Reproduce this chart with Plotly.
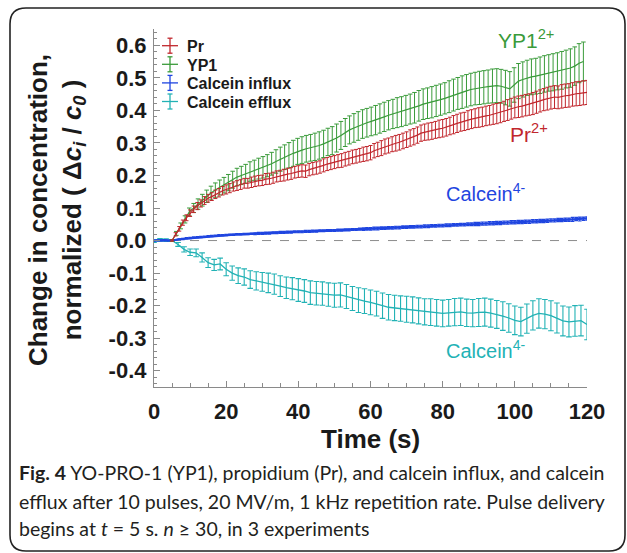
import plotly.graph_objects as go

# ---------------- data ----------------
pr_t = [5, 6, 7, 8, 9, 10, 11, 12, 13, 14, 15, 16, 17, 18, 19, 20, 21, 22, 23, 24,
        25, 26, 27, 28, 29, 30, 31, 32, 33, 34, 35, 36, 37, 38, 39, 40, 41, 42, 43, 44,
        45, 46, 47, 48, 49, 50, 51, 52, 53, 54, 55, 56, 57, 58, 59, 60, 61, 62, 63, 64,
        65, 66, 67, 68, 69, 70, 71, 72, 73, 74, 75, 76, 77, 78, 79, 80, 81, 82, 83, 84,
        85, 86, 87, 88, 89, 90, 91, 92, 93, 94, 95, 96, 97, 98, 99, 100, 101, 102, 103, 104,
        105, 106, 107, 108, 109, 110, 111, 112, 113, 114, 115, 116, 117, 118, 119, 120]
pr_y = [0.000, 0.019, 0.036, 0.055, 0.070, 0.084, 0.096, 0.106, 0.114, 0.123,
        0.130, 0.135, 0.142, 0.147, 0.153, 0.157, 0.161, 0.166, 0.169, 0.172,
        0.176, 0.176, 0.179, 0.182, 0.184, 0.185, 0.189, 0.190, 0.193, 0.197,
        0.199, 0.201, 0.204, 0.206, 0.210, 0.212, 0.214, 0.213, 0.218, 0.221,
        0.223, 0.226, 0.231, 0.235, 0.238, 0.241, 0.244, 0.246, 0.250, 0.253,
        0.257, 0.259, 0.262, 0.265, 0.267, 0.270, 0.276, 0.280, 0.284, 0.289,
        0.292, 0.296, 0.299, 0.302, 0.306, 0.310, 0.315, 0.319, 0.324, 0.330,
        0.333, 0.335, 0.337, 0.340, 0.343, 0.345, 0.348, 0.352, 0.356, 0.360,
        0.364, 0.366, 0.370, 0.373, 0.376, 0.378, 0.380, 0.383, 0.385, 0.388,
        0.390, 0.393, 0.397, 0.401, 0.405, 0.409, 0.411, 0.413, 0.416, 0.418,
        0.421, 0.425, 0.429, 0.433, 0.436, 0.439, 0.441, 0.440, 0.443, 0.445,
        0.446, 0.449, 0.451, 0.452, 0.454, 0.455]
pr_err = [0.002, 0.005, 0.007, 0.008, 0.009, 0.010, 0.010, 0.011, 0.011, 0.012,
          0.012, 0.012, 0.013, 0.013, 0.013, 0.014, 0.014, 0.014, 0.015, 0.015,
          0.015, 0.015, 0.016, 0.016, 0.016, 0.016, 0.017, 0.017, 0.017, 0.017,
          0.017, 0.018, 0.018, 0.018, 0.018, 0.018, 0.019, 0.019, 0.019, 0.019,
          0.019, 0.019, 0.020, 0.020, 0.020, 0.020, 0.020, 0.021, 0.021, 0.021,
          0.021, 0.021, 0.021, 0.022, 0.022, 0.022, 0.022, 0.022, 0.023, 0.023,
          0.023, 0.023, 0.024, 0.024, 0.024, 0.024, 0.025, 0.025, 0.025, 0.025,
          0.025, 0.026, 0.026, 0.026, 0.027, 0.027, 0.027, 0.027, 0.028, 0.028,
          0.028, 0.028, 0.029, 0.029, 0.029, 0.030, 0.030, 0.030, 0.030, 0.031,
          0.031, 0.031, 0.031, 0.032, 0.032, 0.032, 0.033, 0.033, 0.033, 0.033,
          0.034, 0.034, 0.034, 0.034, 0.035, 0.035, 0.035, 0.035, 0.036, 0.036,
          0.036, 0.036, 0.037, 0.037, 0.037, 0.037]

yp1_t = [5.0, 6.2, 7.4, 8.6, 9.8, 11.0, 12.2, 13.4, 14.6, 15.8,
         17.0, 18.2, 19.4, 20.6, 21.8, 23.0, 24.2, 25.4, 26.6, 27.8,
         29.0, 30.2, 31.4, 32.6, 33.8, 35.0, 36.2, 37.4, 38.6, 39.8,
         41.0, 42.2, 43.4, 44.6, 45.8, 47.0, 48.2, 49.4, 50.6, 51.8,
         53.0, 54.2, 55.4, 56.6, 57.8, 59.0, 60.2, 61.4, 62.6, 63.8,
         65.0, 66.2, 67.4, 68.6, 69.8, 71.0, 72.2, 73.4, 74.6, 75.8,
         77.0, 78.2, 79.4, 80.6, 81.8, 83.0, 84.2, 85.4, 86.6, 87.8,
         89.0, 90.2, 91.4, 92.6, 93.8, 95.0, 96.2, 97.4, 98.6, 99.8,
         101.0, 102.2, 103.4, 104.6, 105.8, 107.0, 108.2, 109.4, 110.6, 111.8,
         113.0, 114.2, 115.4, 116.6, 117.8, 119.0]
yp1_y = [0.000, 0.022, 0.045, 0.065, 0.088, 0.100, 0.112, 0.124, 0.136, 0.146,
         0.155, 0.163, 0.170, 0.178, 0.187, 0.195, 0.200, 0.205, 0.212, 0.216,
         0.221, 0.225, 0.230, 0.236, 0.243, 0.250, 0.256, 0.262, 0.268, 0.274,
         0.278, 0.282, 0.285, 0.288, 0.292, 0.297, 0.303, 0.307, 0.315, 0.323,
         0.332, 0.340, 0.346, 0.352, 0.358, 0.362, 0.366, 0.370, 0.375, 0.380,
         0.385, 0.389, 0.393, 0.396, 0.400, 0.404, 0.408, 0.414, 0.419, 0.422,
         0.425, 0.429, 0.433, 0.437, 0.442, 0.447, 0.452, 0.456, 0.460, 0.464,
         0.467, 0.469, 0.471, 0.473, 0.475, 0.476, 0.474, 0.470, 0.466, 0.478,
         0.490, 0.495, 0.500, 0.503, 0.505, 0.508, 0.512, 0.515, 0.517, 0.520,
         0.523, 0.527, 0.530, 0.536, 0.545, 0.550]
yp1_err = [0.003, 0.006, 0.009, 0.011, 0.012, 0.014, 0.016, 0.018, 0.019, 0.021,
           0.022, 0.023, 0.024, 0.025, 0.026, 0.027, 0.028, 0.029, 0.030, 0.031,
           0.032, 0.033, 0.034, 0.035, 0.036, 0.037, 0.038, 0.039, 0.040, 0.040,
           0.041, 0.041, 0.041, 0.042, 0.042, 0.042, 0.042, 0.043, 0.043, 0.043,
           0.043, 0.043, 0.044, 0.044, 0.044, 0.044, 0.044, 0.045, 0.045, 0.045,
           0.045, 0.045, 0.046, 0.046, 0.046, 0.046, 0.047, 0.047, 0.047, 0.047,
           0.048, 0.048, 0.048, 0.048, 0.049, 0.049, 0.049, 0.050, 0.050, 0.050,
           0.050, 0.051, 0.051, 0.051, 0.052, 0.052, 0.052, 0.053, 0.053, 0.053,
           0.054, 0.054, 0.054, 0.055, 0.055, 0.056, 0.056, 0.056, 0.057, 0.057,
           0.058, 0.058, 0.059, 0.059, 0.060, 0.060]

cin_t = [0, 1, 2, 3, 4, 5, 6, 7, 8, 9, 10, 11, 12, 13, 14, 15, 16, 17, 18, 19, 20,
         21, 22, 23, 24, 25, 26, 27, 28, 29, 30, 31, 32, 33, 34, 35, 36, 37, 38, 39, 40,
         41, 42, 43, 44, 45, 46, 47, 48, 49, 50, 51, 52, 53, 54, 55, 56, 57, 58, 59, 60,
         61, 62, 63, 64, 65, 66, 67, 68, 69, 70, 71, 72, 73, 74, 75, 76, 77, 78, 79, 80,
         81, 82, 83, 84, 85, 86, 87, 88, 89, 90, 91, 92, 93, 94, 95, 96, 97, 98, 99, 100,
         101, 102, 103, 104, 105, 106, 107, 108, 109, 110, 111, 112, 113, 114, 115, 116,
         117, 118, 119, 120]
cin_y = [0.000, 0.001, 0.000, 0.001, 0.000,
         0.000, 0.002, 0.004, 0.005, 0.007, 0.008, 0.009, 0.010, 0.011, 0.012,
         0.013, 0.014, 0.015, 0.016, 0.016, 0.017, 0.018, 0.018, 0.019, 0.019,
         0.020, 0.020, 0.021, 0.021, 0.022, 0.022, 0.023, 0.023, 0.024, 0.024,
         0.025, 0.025, 0.026, 0.026, 0.027, 0.027, 0.027, 0.028, 0.028, 0.029,
         0.029, 0.030, 0.030, 0.031, 0.031, 0.031, 0.032, 0.032, 0.033, 0.033,
         0.034, 0.034, 0.035, 0.035, 0.036, 0.036, 0.037, 0.037, 0.038, 0.038,
         0.039, 0.039, 0.040, 0.040, 0.041, 0.041, 0.042, 0.042, 0.043, 0.043,
         0.044, 0.044, 0.045, 0.045, 0.046, 0.046, 0.047, 0.047, 0.048, 0.048,
         0.049, 0.049, 0.050, 0.050, 0.051, 0.051, 0.052, 0.052, 0.053, 0.053,
         0.054, 0.054, 0.055, 0.055, 0.056, 0.056, 0.057, 0.057, 0.058, 0.058,
         0.059, 0.059, 0.060, 0.060, 0.061, 0.062, 0.062, 0.063, 0.063, 0.064,
         0.064, 0.065, 0.066, 0.066, 0.067, 0.068]
cin_err = [0.001, 0.001, 0.001, 0.001, 0.001,
           0.001, 0.001, 0.001, 0.002, 0.002, 0.002, 0.002, 0.002, 0.002, 0.002,
           0.002, 0.002, 0.002, 0.002, 0.002, 0.002, 0.002, 0.002, 0.002, 0.002,
           0.002, 0.002, 0.002, 0.003, 0.003, 0.003, 0.003, 0.003, 0.003, 0.003,
           0.003, 0.003, 0.003, 0.003, 0.003, 0.003, 0.003, 0.003, 0.003, 0.003,
           0.003, 0.003, 0.003, 0.003, 0.003, 0.003, 0.003, 0.003, 0.003, 0.003,
           0.003, 0.003, 0.003, 0.004, 0.004, 0.004, 0.004, 0.004, 0.004, 0.004,
           0.004, 0.004, 0.004, 0.004, 0.004, 0.004, 0.004, 0.004, 0.004, 0.004,
           0.004, 0.004, 0.004, 0.004, 0.004, 0.004, 0.004, 0.004, 0.004, 0.004,
           0.004, 0.004, 0.004, 0.004, 0.005, 0.005, 0.005, 0.005, 0.005, 0.005,
           0.005, 0.005, 0.005, 0.005, 0.005, 0.005, 0.005, 0.005, 0.005, 0.005,
           0.005, 0.005, 0.005, 0.005, 0.005, 0.005, 0.005, 0.005, 0.005, 0.005,
           0.005, 0.006, 0.005, 0.006, 0.005, 0.005]

cef_t = [0, 1.67, 3.33, 5, 6.67, 8.33, 10, 11.67, 13.33, 15, 16.67, 18.33, 20,
         21.67, 23.33, 25, 26.67, 28.33, 30, 31.67, 33.33, 35, 36.67, 38.33, 40,
         41.67, 43.33, 45, 46.67, 48.33, 50, 51.67, 53.33, 55, 56.67, 58.33, 60,
         61.67, 63.33, 65, 66.67, 68.33, 70, 71.67, 73.33, 75, 76.67, 78.33, 80,
         81.67, 83.33, 85, 86.67, 88.33, 90, 91.67, 93.33, 95, 96.67, 98.33, 100,
         101.67, 103.33, 105, 106.67, 108.33, 110, 111.67, 113.33, 115, 116.67, 118.33, 120]
cef_y = [-0.002, 0.002, 0.001, 0.000,
         -0.012, -0.027, -0.036, -0.038, -0.052, -0.068, -0.075, -0.072, -0.088,
         -0.100, -0.108, -0.112, -0.120, -0.124, -0.127, -0.130, -0.134, -0.140, -0.145, -0.148, -0.152,
         -0.155, -0.160, -0.162, -0.163, -0.166, -0.168, -0.167, -0.172, -0.178, -0.183, -0.186, -0.190,
         -0.194, -0.200, -0.205, -0.207, -0.209, -0.211, -0.213, -0.216, -0.219, -0.220, -0.222, -0.224,
         -0.222, -0.220, -0.219, -0.222, -0.223, -0.221, -0.220, -0.223, -0.227, -0.232, -0.238, -0.245,
         -0.249, -0.240, -0.230, -0.224, -0.226, -0.231, -0.238, -0.247, -0.250, -0.247, -0.246, -0.258]
cef_err = [0.004, 0.004, 0.004, 0.003,
           0.006, 0.008, 0.010, 0.012, 0.014, 0.015, 0.017, 0.018, 0.020,
           0.022, 0.024, 0.025, 0.027, 0.028, 0.029, 0.030, 0.031, 0.032, 0.033, 0.034, 0.035,
           0.035, 0.036, 0.036, 0.036, 0.036, 0.037, 0.037, 0.037, 0.037, 0.038, 0.038, 0.038,
           0.038, 0.039, 0.039, 0.039, 0.039, 0.040, 0.040, 0.040, 0.040, 0.041, 0.041, 0.041,
           0.041, 0.042, 0.042, 0.042, 0.042, 0.043, 0.043, 0.043, 0.043, 0.044, 0.044, 0.044,
           0.044, 0.045, 0.045, 0.045, 0.045, 0.046, 0.046, 0.046, 0.046, 0.047, 0.047, 0.047]

legend_names = ["Pr", "YP1", "Calcein influx", "Calcein efflux"]
x_ticks = [0, 20, 40, 60, 80, 100, 120]
y_ticks = [-0.4, -0.3, -0.2, -0.1, 0.0, 0.1, 0.2, 0.3, 0.4, 0.5, 0.6]

# ---------------- styling ----------------
RED = "#c1272d"
GREEN = "#3a9b3a"
BLUE = "#1f45e0"
TEAL = "#22b2b5"
AX = "#8a8a8a"
FONT = "Liberation Sans, Arial, sans-serif"

W, H = 627, 553
ML, MR, MT, MB = 154, 40, 29, 166
PW, PH = W - ML - MR, H - MT - MB


def xp(px):
    return (px - ML) / PW


def yp(py):
    return (H - MB - py) / PH


fig = go.Figure()


def add_series(t, y, e, color, lw=1.2, ew=1.0, cap=2.2):
    fig.add_trace(go.Scatter(
        x=t, y=y, mode="lines", showlegend=False,
        line=dict(color=color, width=lw),
        error_y=dict(type="data", array=e, visible=True, color=color,
                     thickness=ew, width=cap),
    ))


add_series(cef_t, cef_y, cef_err, TEAL, lw=1.3, ew=1.1, cap=2.8)
add_series(cin_t, cin_y, cin_err, BLUE, lw=2.2, ew=1.2, cap=1.8)
add_series(yp1_t, yp1_y, yp1_err, GREEN, lw=1.2, ew=1.0, cap=2.3)
add_series(pr_t, pr_y, pr_err, RED, lw=1.2, ew=1.0, cap=2.0)

shapes = []
annotations = []

# dashed zero reference line
shapes.append(dict(type="line", xref="x", yref="y", x0=0, x1=120, y0=0, y1=0,
                   line=dict(color="#8c8c8c", width=1, dash="dash"), layer="below"))

# outer rounded frame
x0, x1, y0, y1, r = 10, 625, 8, 551, 16
path = (f"M {xp(x0 + r)},{yp(y0)} L {xp(x1 - r)},{yp(y0)} "
        f"Q {xp(x1)},{yp(y0)} {xp(x1)},{yp(y0 + r)} "
        f"L {xp(x1)},{yp(y1 - r)} Q {xp(x1)},{yp(y1)} {xp(x1 - r)},{yp(y1)} "
        f"L {xp(x0 + r)},{yp(y1)} Q {xp(x0)},{yp(y1)} {xp(x0)},{yp(y1 - r)} "
        f"L {xp(x0)},{yp(y0 + r)} Q {xp(x0)},{yp(y0)} {xp(x0 + r)},{yp(y0)} Z")
shapes.append(dict(type="path", xref="paper", yref="paper", path=path,
                   line=dict(color="#222222", width=1.6)))

# manual legend (error-bar icons + bold labels)
leg_colors = [RED, GREEN, BLUE, TEAL]
leg_rows = [45.7, 64.3, 82.9, 101.5]
for name, col, yc in zip(legend_names, leg_colors, leg_rows):
    shapes.append(dict(type="line", xref="paper", yref="paper",
                       x0=xp(162), x1=xp(178), y0=yp(yc), y1=yp(yc),
                       line=dict(color=col, width=1.3)))
    shapes.append(dict(type="line", xref="paper", yref="paper",
                       x0=xp(170), x1=xp(170), y0=yp(yc - 7.5), y1=yp(yc + 7.5),
                       line=dict(color=col, width=1.3)))
    for dy in (-7.5, 7.5):
        shapes.append(dict(type="line", xref="paper", yref="paper",
                           x0=xp(167.5), x1=xp(172.5), y0=yp(yc + dy), y1=yp(yc + dy),
                           line=dict(color=col, width=1.3)))
    annotations.append(dict(xref="paper", yref="paper", x=xp(185), y=yp(yc + 1),
                            xanchor="left", yanchor="middle", showarrow=False,
                            text=f"<b>{name}</b>",
                            font=dict(family=FONT, size=16, color="#1a1a1a")))

# series labels
lab_font = 20
annotations += [
    dict(xref="x", yref="y", x=103, y=0.62, text="YP1<sup>2+</sup>", showarrow=False,
         font=dict(family=FONT, size=21, color=GREEN)),
    dict(xref="x", yref="y", x=104, y=0.33, text="Pr<sup>2+</sup>", showarrow=False,
         font=dict(family=FONT, size=21, color=RED)),
    dict(xref="x", yref="y", x=92, y=0.148, text="Calcein<sup>4-</sup>", showarrow=False,
         font=dict(family=FONT, size=lab_font, color=BLUE)),
    dict(xref="x", yref="y", x=92, y=-0.335, text="Calcein<sup>4-</sup>", showarrow=False,
         font=dict(family=FONT, size=lab_font, color=TEAL)),
]

# axis titles
annotations.append(dict(xref="paper", yref="paper", x=xp(370), y=yp(439),
                        xanchor="center", yanchor="middle", showarrow=False,
                        text="<b>Time (s)</b>",
                        font=dict(family=FONT, size=26, color="#1a1a1a")))
annotations.append(dict(xref="paper", yref="paper", x=xp(56), y=yp(210),
                        xanchor="center", yanchor="middle", showarrow=False,
                        textangle=-90,
                        text=("<b>Change in concentration,<br>normalized "
                              "( Δ<i>c<sub>i</sub></i> / <i>c<sub>0</sub></i> )</b>"),
                        font=dict(family=FONT, size=26, color="#1a1a1a")))

# caption
CAP = "Lato, Noto Sans, sans-serif"
cap_lines = [
    "<b>Fig. 4</b> YO-PRO-1 (YP1), propidium (Pr), and calcein influx, and calcein",
    "efflux after 10 pulses, 20 MV/m, 1 kHz repetition rate. Pulse delivery",
    "begins at <i>t</i> = 5 s. <i>n</i> ≥ 30, in 3 experiments",
]
for line, yc in zip(cap_lines, [473, 501, 528]):
    annotations.append(dict(xref="paper", yref="paper", x=xp(17), y=yp(yc),
                            xanchor="left", yanchor="middle", showarrow=False,
                            text=line, font=dict(family=CAP, size=19.5, color="#231f20")))

fig.update_layout(
    width=W, height=H,
    margin=dict(l=ML, r=MR, t=MT, b=MB, autoexpand=False),
    paper_bgcolor="white", plot_bgcolor="white",
    showlegend=False,
    shapes=shapes, annotations=annotations,
    font=dict(family=FONT),
)
fig.update_xaxes(
    range=[0, 120], tickvals=x_ticks, ticktext=[str(v) for v in x_ticks],
    showgrid=False, zeroline=False, showline=True, linecolor=AX, linewidth=1.2,
    ticks="inside", ticklen=6, tickcolor=AX, tickwidth=1.2,
    tickfont=dict(family=FONT, size=22, color="#1a1a1a", weight="bold"),
    minor=dict(dtick=5, tick0=0, ticks="inside", ticklen=4, tickcolor=AX, tickwidth=1),
    ticklabelstandoff=4,
)
fig.update_yaxes(
    range=[-0.45, 0.65], tickvals=y_ticks, ticktext=[f"{v:.1f}" for v in y_ticks],
    showgrid=False, zeroline=False, showline=True, linecolor=AX, linewidth=1.2,
    ticks="inside", ticklen=6, tickcolor=AX, tickwidth=1.2,
    tickfont=dict(family=FONT, size=22, color="#1a1a1a", weight="bold"),
    minor=dict(dtick=0.02, tick0=0, ticks="inside", ticklen=3, tickcolor=AX, tickwidth=1),
    ticklabelstandoff=2,
)

fig.write_html("out.html", config={"displayModeBar": False},
               post_script="document.body.style.margin='0';document.body.style.padding='0';")
